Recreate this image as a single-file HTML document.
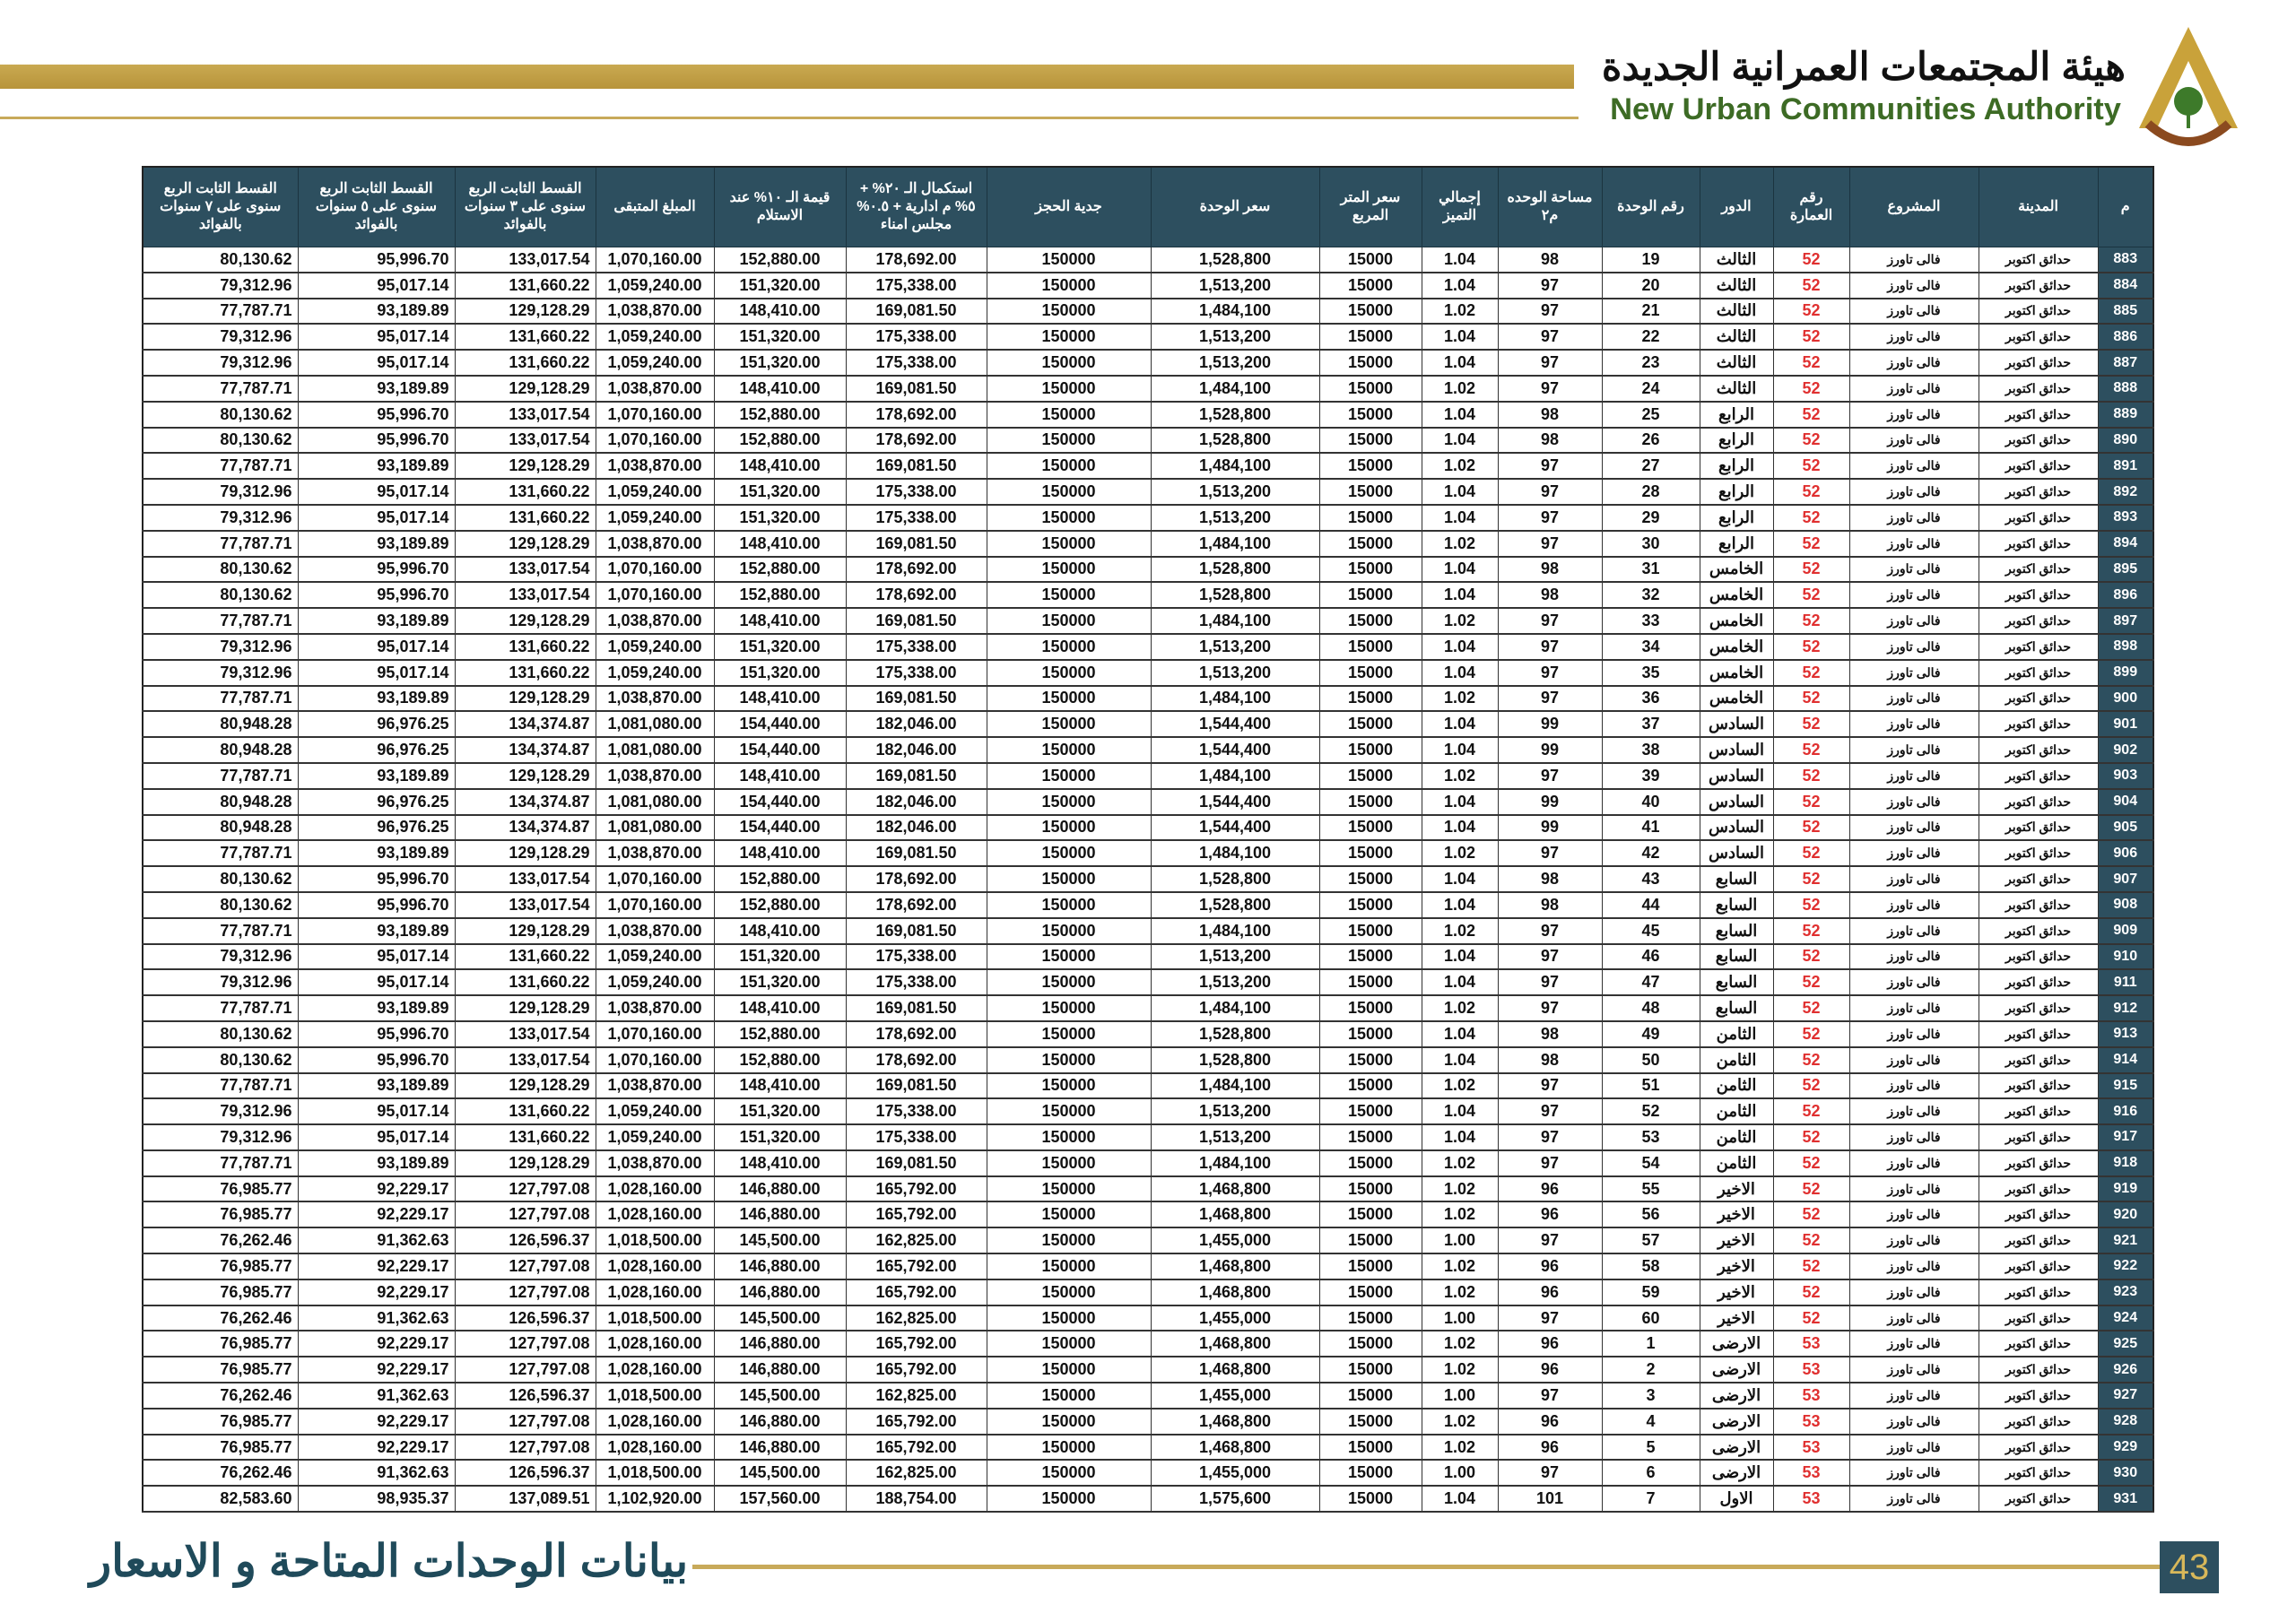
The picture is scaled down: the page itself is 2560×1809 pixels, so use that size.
<!DOCTYPE html>
<html><head><meta charset="utf-8"><style>
body{margin:0;width:2560px;height:1809px;background:#fff;position:relative;overflow:hidden;font-family:"Liberation Sans","Noto Sans CJK SC",sans-serif}
.gold{position:absolute;left:0;top:72px;width:1755px;height:27px;background:linear-gradient(#c9a951,#b8943a)}
.thin{position:absolute;left:0;top:130px;width:1760px;height:3px;background:#c8aa5a}
.ar{position:absolute;left:1790px;top:50px;width:580px;text-align:right;font-size:43px;font-weight:bold;color:#111;direction:rtl;white-space:nowrap}
.en{position:absolute;left:1780px;top:103px;width:585px;text-align:right;font-size:34.5px;font-weight:bold;color:#3d6b25;white-space:nowrap}
.logo{position:absolute;left:2380px;top:28px}
table{position:absolute;left:158px;top:185px;width:2242px;border-collapse:collapse;table-layout:fixed;border:2px solid #222}
th{background:#2d4f5f;color:#fff;font-size:16px;font-weight:bold;height:88px;border:1px solid #1b3440;padding:0 4px;direction:rtl;line-height:20px}
td{height:26.8px;border-left:1px solid #333;border-right:1px solid #333;border-bottom:2px solid #333;font-size:18px;font-weight:bold;text-align:center;padding:0 6px;color:#111;white-space:nowrap;overflow:hidden}
td.r{text-align:right}
td.red{color:#e03030}
td.id{background:#2d4f5f;color:#fff;font-size:16px}
td.s{font-size:14px}
.ft{position:absolute;left:100px;top:1712px;font-size:50px;font-weight:bold;color:#1f4a5a;direction:rtl;white-space:nowrap}
.fl{position:absolute;left:772px;top:1745px;width:1636px;height:5px;background:#c8aa5a}
.pg{position:absolute;left:2408px;top:1719px;width:66px;height:58px;background:#2d4f5f;color:#d8b85a;font-size:40px;text-align:center;line-height:58px}
</style></head><body>
<div class="gold"></div><div class="thin"></div>
<div class="ar">هيئة المجتمعات العمرانية الجديدة</div>
<div class="en">New Urban Communities Authority</div>
<svg class="logo" width="120" height="150" viewBox="0 0 120 150"><polygon points="60,2 115,115 95,115 60,40 25,115 5,115" fill="#c9a23a"/><path d="M15 110 Q60 150 105 110" stroke="#8b4a1f" stroke-width="10" fill="none"/><circle cx="60" cy="85" r="16" fill="#3d7a2a"/><rect x="58" y="70" width="4" height="45" fill="#3d7a2a"/></svg>
<table>
<colgroup><col style="width:173px"><col style="width:175px"><col style="width:157px"><col style="width:132px"><col style="width:147px"><col style="width:157px"><col style="width:183px"><col style="width:188px"><col style="width:114px"><col style="width:85px"><col style="width:116px"><col style="width:109px"><col style="width:82px"><col style="width:85px"><col style="width:144px"><col style="width:133px"><col style="width:62px"></colgroup>
<tr><th>القسط الثابت الربع سنوى على ٧ سنوات بالفوائد</th><th>القسط الثابت الربع سنوى على ٥ سنوات بالفوائد</th><th>القسط الثابت الربع سنوى على ٣ سنوات بالفوائد</th><th>المبلغ المتبقى</th><th>قيمة الـ ١٠% عند الاستلام</th><th>استكمال الـ ٢٠% + ٥% م ادارية + ٠.٥% مجلس امناء</th><th>جدية الحجز</th><th>سعر الوحدة</th><th>سعر المتر المربع</th><th>إجمالي التميز</th><th>مساحة الوحده م٢</th><th>رقم الوحدة</th><th>الدور</th><th>رقم العمارة</th><th>المشروع</th><th>المدينة</th><th>م</th></tr>
<tr><td class=r>80,130.62<td class=r>95,996.70<td class=r>133,017.54<td>1,070,160.00<td>152,880.00<td>178,692.00<td>150000<td>1,528,800<td>15000<td>1.04<td>98<td>19<td>الثالث<td class=red>52<td class=s>فالى تاورز<td class=s>حدائق اكتوبر<td class=id>883</tr>
<tr><td class=r>79,312.96<td class=r>95,017.14<td class=r>131,660.22<td>1,059,240.00<td>151,320.00<td>175,338.00<td>150000<td>1,513,200<td>15000<td>1.04<td>97<td>20<td>الثالث<td class=red>52<td class=s>فالى تاورز<td class=s>حدائق اكتوبر<td class=id>884</tr>
<tr><td class=r>77,787.71<td class=r>93,189.89<td class=r>129,128.29<td>1,038,870.00<td>148,410.00<td>169,081.50<td>150000<td>1,484,100<td>15000<td>1.02<td>97<td>21<td>الثالث<td class=red>52<td class=s>فالى تاورز<td class=s>حدائق اكتوبر<td class=id>885</tr>
<tr><td class=r>79,312.96<td class=r>95,017.14<td class=r>131,660.22<td>1,059,240.00<td>151,320.00<td>175,338.00<td>150000<td>1,513,200<td>15000<td>1.04<td>97<td>22<td>الثالث<td class=red>52<td class=s>فالى تاورز<td class=s>حدائق اكتوبر<td class=id>886</tr>
<tr><td class=r>79,312.96<td class=r>95,017.14<td class=r>131,660.22<td>1,059,240.00<td>151,320.00<td>175,338.00<td>150000<td>1,513,200<td>15000<td>1.04<td>97<td>23<td>الثالث<td class=red>52<td class=s>فالى تاورز<td class=s>حدائق اكتوبر<td class=id>887</tr>
<tr><td class=r>77,787.71<td class=r>93,189.89<td class=r>129,128.29<td>1,038,870.00<td>148,410.00<td>169,081.50<td>150000<td>1,484,100<td>15000<td>1.02<td>97<td>24<td>الثالث<td class=red>52<td class=s>فالى تاورز<td class=s>حدائق اكتوبر<td class=id>888</tr>
<tr><td class=r>80,130.62<td class=r>95,996.70<td class=r>133,017.54<td>1,070,160.00<td>152,880.00<td>178,692.00<td>150000<td>1,528,800<td>15000<td>1.04<td>98<td>25<td>الرابع<td class=red>52<td class=s>فالى تاورز<td class=s>حدائق اكتوبر<td class=id>889</tr>
<tr><td class=r>80,130.62<td class=r>95,996.70<td class=r>133,017.54<td>1,070,160.00<td>152,880.00<td>178,692.00<td>150000<td>1,528,800<td>15000<td>1.04<td>98<td>26<td>الرابع<td class=red>52<td class=s>فالى تاورز<td class=s>حدائق اكتوبر<td class=id>890</tr>
<tr><td class=r>77,787.71<td class=r>93,189.89<td class=r>129,128.29<td>1,038,870.00<td>148,410.00<td>169,081.50<td>150000<td>1,484,100<td>15000<td>1.02<td>97<td>27<td>الرابع<td class=red>52<td class=s>فالى تاورز<td class=s>حدائق اكتوبر<td class=id>891</tr>
<tr><td class=r>79,312.96<td class=r>95,017.14<td class=r>131,660.22<td>1,059,240.00<td>151,320.00<td>175,338.00<td>150000<td>1,513,200<td>15000<td>1.04<td>97<td>28<td>الرابع<td class=red>52<td class=s>فالى تاورز<td class=s>حدائق اكتوبر<td class=id>892</tr>
<tr><td class=r>79,312.96<td class=r>95,017.14<td class=r>131,660.22<td>1,059,240.00<td>151,320.00<td>175,338.00<td>150000<td>1,513,200<td>15000<td>1.04<td>97<td>29<td>الرابع<td class=red>52<td class=s>فالى تاورز<td class=s>حدائق اكتوبر<td class=id>893</tr>
<tr><td class=r>77,787.71<td class=r>93,189.89<td class=r>129,128.29<td>1,038,870.00<td>148,410.00<td>169,081.50<td>150000<td>1,484,100<td>15000<td>1.02<td>97<td>30<td>الرابع<td class=red>52<td class=s>فالى تاورز<td class=s>حدائق اكتوبر<td class=id>894</tr>
<tr><td class=r>80,130.62<td class=r>95,996.70<td class=r>133,017.54<td>1,070,160.00<td>152,880.00<td>178,692.00<td>150000<td>1,528,800<td>15000<td>1.04<td>98<td>31<td>الخامس<td class=red>52<td class=s>فالى تاورز<td class=s>حدائق اكتوبر<td class=id>895</tr>
<tr><td class=r>80,130.62<td class=r>95,996.70<td class=r>133,017.54<td>1,070,160.00<td>152,880.00<td>178,692.00<td>150000<td>1,528,800<td>15000<td>1.04<td>98<td>32<td>الخامس<td class=red>52<td class=s>فالى تاورز<td class=s>حدائق اكتوبر<td class=id>896</tr>
<tr><td class=r>77,787.71<td class=r>93,189.89<td class=r>129,128.29<td>1,038,870.00<td>148,410.00<td>169,081.50<td>150000<td>1,484,100<td>15000<td>1.02<td>97<td>33<td>الخامس<td class=red>52<td class=s>فالى تاورز<td class=s>حدائق اكتوبر<td class=id>897</tr>
<tr><td class=r>79,312.96<td class=r>95,017.14<td class=r>131,660.22<td>1,059,240.00<td>151,320.00<td>175,338.00<td>150000<td>1,513,200<td>15000<td>1.04<td>97<td>34<td>الخامس<td class=red>52<td class=s>فالى تاورز<td class=s>حدائق اكتوبر<td class=id>898</tr>
<tr><td class=r>79,312.96<td class=r>95,017.14<td class=r>131,660.22<td>1,059,240.00<td>151,320.00<td>175,338.00<td>150000<td>1,513,200<td>15000<td>1.04<td>97<td>35<td>الخامس<td class=red>52<td class=s>فالى تاورز<td class=s>حدائق اكتوبر<td class=id>899</tr>
<tr><td class=r>77,787.71<td class=r>93,189.89<td class=r>129,128.29<td>1,038,870.00<td>148,410.00<td>169,081.50<td>150000<td>1,484,100<td>15000<td>1.02<td>97<td>36<td>الخامس<td class=red>52<td class=s>فالى تاورز<td class=s>حدائق اكتوبر<td class=id>900</tr>
<tr><td class=r>80,948.28<td class=r>96,976.25<td class=r>134,374.87<td>1,081,080.00<td>154,440.00<td>182,046.00<td>150000<td>1,544,400<td>15000<td>1.04<td>99<td>37<td>السادس<td class=red>52<td class=s>فالى تاورز<td class=s>حدائق اكتوبر<td class=id>901</tr>
<tr><td class=r>80,948.28<td class=r>96,976.25<td class=r>134,374.87<td>1,081,080.00<td>154,440.00<td>182,046.00<td>150000<td>1,544,400<td>15000<td>1.04<td>99<td>38<td>السادس<td class=red>52<td class=s>فالى تاورز<td class=s>حدائق اكتوبر<td class=id>902</tr>
<tr><td class=r>77,787.71<td class=r>93,189.89<td class=r>129,128.29<td>1,038,870.00<td>148,410.00<td>169,081.50<td>150000<td>1,484,100<td>15000<td>1.02<td>97<td>39<td>السادس<td class=red>52<td class=s>فالى تاورز<td class=s>حدائق اكتوبر<td class=id>903</tr>
<tr><td class=r>80,948.28<td class=r>96,976.25<td class=r>134,374.87<td>1,081,080.00<td>154,440.00<td>182,046.00<td>150000<td>1,544,400<td>15000<td>1.04<td>99<td>40<td>السادس<td class=red>52<td class=s>فالى تاورز<td class=s>حدائق اكتوبر<td class=id>904</tr>
<tr><td class=r>80,948.28<td class=r>96,976.25<td class=r>134,374.87<td>1,081,080.00<td>154,440.00<td>182,046.00<td>150000<td>1,544,400<td>15000<td>1.04<td>99<td>41<td>السادس<td class=red>52<td class=s>فالى تاورز<td class=s>حدائق اكتوبر<td class=id>905</tr>
<tr><td class=r>77,787.71<td class=r>93,189.89<td class=r>129,128.29<td>1,038,870.00<td>148,410.00<td>169,081.50<td>150000<td>1,484,100<td>15000<td>1.02<td>97<td>42<td>السادس<td class=red>52<td class=s>فالى تاورز<td class=s>حدائق اكتوبر<td class=id>906</tr>
<tr><td class=r>80,130.62<td class=r>95,996.70<td class=r>133,017.54<td>1,070,160.00<td>152,880.00<td>178,692.00<td>150000<td>1,528,800<td>15000<td>1.04<td>98<td>43<td>السابع<td class=red>52<td class=s>فالى تاورز<td class=s>حدائق اكتوبر<td class=id>907</tr>
<tr><td class=r>80,130.62<td class=r>95,996.70<td class=r>133,017.54<td>1,070,160.00<td>152,880.00<td>178,692.00<td>150000<td>1,528,800<td>15000<td>1.04<td>98<td>44<td>السابع<td class=red>52<td class=s>فالى تاورز<td class=s>حدائق اكتوبر<td class=id>908</tr>
<tr><td class=r>77,787.71<td class=r>93,189.89<td class=r>129,128.29<td>1,038,870.00<td>148,410.00<td>169,081.50<td>150000<td>1,484,100<td>15000<td>1.02<td>97<td>45<td>السابع<td class=red>52<td class=s>فالى تاورز<td class=s>حدائق اكتوبر<td class=id>909</tr>
<tr><td class=r>79,312.96<td class=r>95,017.14<td class=r>131,660.22<td>1,059,240.00<td>151,320.00<td>175,338.00<td>150000<td>1,513,200<td>15000<td>1.04<td>97<td>46<td>السابع<td class=red>52<td class=s>فالى تاورز<td class=s>حدائق اكتوبر<td class=id>910</tr>
<tr><td class=r>79,312.96<td class=r>95,017.14<td class=r>131,660.22<td>1,059,240.00<td>151,320.00<td>175,338.00<td>150000<td>1,513,200<td>15000<td>1.04<td>97<td>47<td>السابع<td class=red>52<td class=s>فالى تاورز<td class=s>حدائق اكتوبر<td class=id>911</tr>
<tr><td class=r>77,787.71<td class=r>93,189.89<td class=r>129,128.29<td>1,038,870.00<td>148,410.00<td>169,081.50<td>150000<td>1,484,100<td>15000<td>1.02<td>97<td>48<td>السابع<td class=red>52<td class=s>فالى تاورز<td class=s>حدائق اكتوبر<td class=id>912</tr>
<tr><td class=r>80,130.62<td class=r>95,996.70<td class=r>133,017.54<td>1,070,160.00<td>152,880.00<td>178,692.00<td>150000<td>1,528,800<td>15000<td>1.04<td>98<td>49<td>الثامن<td class=red>52<td class=s>فالى تاورز<td class=s>حدائق اكتوبر<td class=id>913</tr>
<tr><td class=r>80,130.62<td class=r>95,996.70<td class=r>133,017.54<td>1,070,160.00<td>152,880.00<td>178,692.00<td>150000<td>1,528,800<td>15000<td>1.04<td>98<td>50<td>الثامن<td class=red>52<td class=s>فالى تاورز<td class=s>حدائق اكتوبر<td class=id>914</tr>
<tr><td class=r>77,787.71<td class=r>93,189.89<td class=r>129,128.29<td>1,038,870.00<td>148,410.00<td>169,081.50<td>150000<td>1,484,100<td>15000<td>1.02<td>97<td>51<td>الثامن<td class=red>52<td class=s>فالى تاورز<td class=s>حدائق اكتوبر<td class=id>915</tr>
<tr><td class=r>79,312.96<td class=r>95,017.14<td class=r>131,660.22<td>1,059,240.00<td>151,320.00<td>175,338.00<td>150000<td>1,513,200<td>15000<td>1.04<td>97<td>52<td>الثامن<td class=red>52<td class=s>فالى تاورز<td class=s>حدائق اكتوبر<td class=id>916</tr>
<tr><td class=r>79,312.96<td class=r>95,017.14<td class=r>131,660.22<td>1,059,240.00<td>151,320.00<td>175,338.00<td>150000<td>1,513,200<td>15000<td>1.04<td>97<td>53<td>الثامن<td class=red>52<td class=s>فالى تاورز<td class=s>حدائق اكتوبر<td class=id>917</tr>
<tr><td class=r>77,787.71<td class=r>93,189.89<td class=r>129,128.29<td>1,038,870.00<td>148,410.00<td>169,081.50<td>150000<td>1,484,100<td>15000<td>1.02<td>97<td>54<td>الثامن<td class=red>52<td class=s>فالى تاورز<td class=s>حدائق اكتوبر<td class=id>918</tr>
<tr><td class=r>76,985.77<td class=r>92,229.17<td class=r>127,797.08<td>1,028,160.00<td>146,880.00<td>165,792.00<td>150000<td>1,468,800<td>15000<td>1.02<td>96<td>55<td>الاخير<td class=red>52<td class=s>فالى تاورز<td class=s>حدائق اكتوبر<td class=id>919</tr>
<tr><td class=r>76,985.77<td class=r>92,229.17<td class=r>127,797.08<td>1,028,160.00<td>146,880.00<td>165,792.00<td>150000<td>1,468,800<td>15000<td>1.02<td>96<td>56<td>الاخير<td class=red>52<td class=s>فالى تاورز<td class=s>حدائق اكتوبر<td class=id>920</tr>
<tr><td class=r>76,262.46<td class=r>91,362.63<td class=r>126,596.37<td>1,018,500.00<td>145,500.00<td>162,825.00<td>150000<td>1,455,000<td>15000<td>1.00<td>97<td>57<td>الاخير<td class=red>52<td class=s>فالى تاورز<td class=s>حدائق اكتوبر<td class=id>921</tr>
<tr><td class=r>76,985.77<td class=r>92,229.17<td class=r>127,797.08<td>1,028,160.00<td>146,880.00<td>165,792.00<td>150000<td>1,468,800<td>15000<td>1.02<td>96<td>58<td>الاخير<td class=red>52<td class=s>فالى تاورز<td class=s>حدائق اكتوبر<td class=id>922</tr>
<tr><td class=r>76,985.77<td class=r>92,229.17<td class=r>127,797.08<td>1,028,160.00<td>146,880.00<td>165,792.00<td>150000<td>1,468,800<td>15000<td>1.02<td>96<td>59<td>الاخير<td class=red>52<td class=s>فالى تاورز<td class=s>حدائق اكتوبر<td class=id>923</tr>
<tr><td class=r>76,262.46<td class=r>91,362.63<td class=r>126,596.37<td>1,018,500.00<td>145,500.00<td>162,825.00<td>150000<td>1,455,000<td>15000<td>1.00<td>97<td>60<td>الاخير<td class=red>52<td class=s>فالى تاورز<td class=s>حدائق اكتوبر<td class=id>924</tr>
<tr><td class=r>76,985.77<td class=r>92,229.17<td class=r>127,797.08<td>1,028,160.00<td>146,880.00<td>165,792.00<td>150000<td>1,468,800<td>15000<td>1.02<td>96<td>1<td>الارضى<td class=red>53<td class=s>فالى تاورز<td class=s>حدائق اكتوبر<td class=id>925</tr>
<tr><td class=r>76,985.77<td class=r>92,229.17<td class=r>127,797.08<td>1,028,160.00<td>146,880.00<td>165,792.00<td>150000<td>1,468,800<td>15000<td>1.02<td>96<td>2<td>الارضى<td class=red>53<td class=s>فالى تاورز<td class=s>حدائق اكتوبر<td class=id>926</tr>
<tr><td class=r>76,262.46<td class=r>91,362.63<td class=r>126,596.37<td>1,018,500.00<td>145,500.00<td>162,825.00<td>150000<td>1,455,000<td>15000<td>1.00<td>97<td>3<td>الارضى<td class=red>53<td class=s>فالى تاورز<td class=s>حدائق اكتوبر<td class=id>927</tr>
<tr><td class=r>76,985.77<td class=r>92,229.17<td class=r>127,797.08<td>1,028,160.00<td>146,880.00<td>165,792.00<td>150000<td>1,468,800<td>15000<td>1.02<td>96<td>4<td>الارضى<td class=red>53<td class=s>فالى تاورز<td class=s>حدائق اكتوبر<td class=id>928</tr>
<tr><td class=r>76,985.77<td class=r>92,229.17<td class=r>127,797.08<td>1,028,160.00<td>146,880.00<td>165,792.00<td>150000<td>1,468,800<td>15000<td>1.02<td>96<td>5<td>الارضى<td class=red>53<td class=s>فالى تاورز<td class=s>حدائق اكتوبر<td class=id>929</tr>
<tr><td class=r>76,262.46<td class=r>91,362.63<td class=r>126,596.37<td>1,018,500.00<td>145,500.00<td>162,825.00<td>150000<td>1,455,000<td>15000<td>1.00<td>97<td>6<td>الارضى<td class=red>53<td class=s>فالى تاورز<td class=s>حدائق اكتوبر<td class=id>930</tr>
<tr><td class=r>82,583.60<td class=r>98,935.37<td class=r>137,089.51<td>1,102,920.00<td>157,560.00<td>188,754.00<td>150000<td>1,575,600<td>15000<td>1.04<td>101<td>7<td>الاول<td class=red>53<td class=s>فالى تاورز<td class=s>حدائق اكتوبر<td class=id>931</tr>
</table>
<div class="ft">بيانات الوحدات المتاحة و الاسعار</div>
<div class="fl"></div>
<div class="pg">43</div>
</body></html>
